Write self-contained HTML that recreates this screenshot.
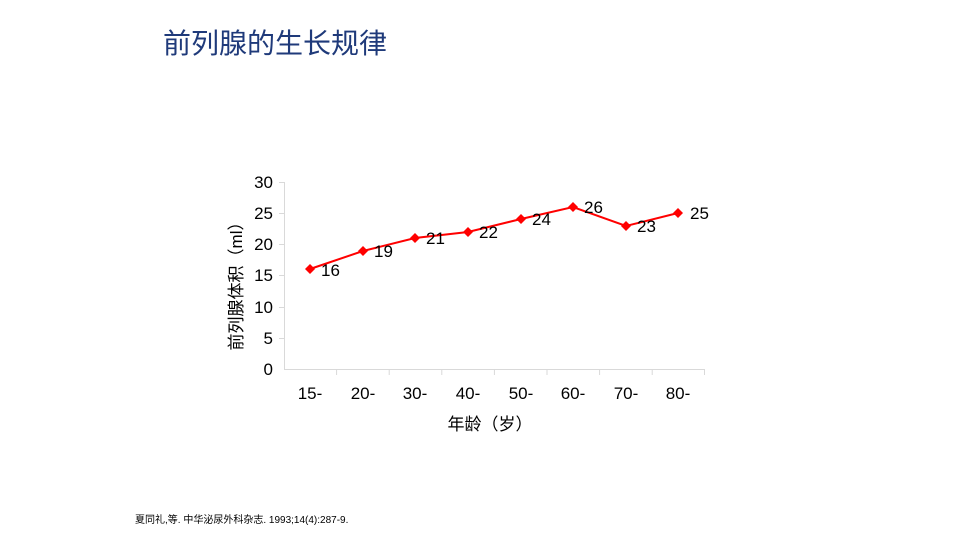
<!DOCTYPE html>
<html><head><meta charset="utf-8"><style>
body{margin:0;width:960px;height:540px;background:#fff;overflow:hidden;font-family:"Liberation Sans","Noto Sans CJK SC",sans-serif}
</style></head><body>
<svg width="960" height="540" xmlns="http://www.w3.org/2000/svg" font-family="Liberation Sans, Noto Sans CJK SC, sans-serif">
<text x="163" y="53" font-size="28" fill="#1f3a7a">前列腺的生长规律</text>
<g stroke="#d9d9d9" stroke-width="1">
<line x1="284.5" y1="182" x2="284.5" y2="369.5"/>
<line x1="284" y1="369.5" x2="705" y2="369.5"/>
<line x1="279" y1="182.5" x2="284" y2="182.5"/><line x1="279" y1="213.5" x2="284" y2="213.5"/><line x1="279" y1="244.5" x2="284" y2="244.5"/><line x1="279" y1="275.5" x2="284" y2="275.5"/><line x1="279" y1="307.5" x2="284" y2="307.5"/><line x1="279" y1="338.5" x2="284" y2="338.5"/>
<line x1="336.6" y1="369" x2="336.6" y2="375"/><line x1="389.2" y1="369" x2="389.2" y2="375"/><line x1="441.8" y1="369" x2="441.8" y2="375"/><line x1="494.4" y1="369" x2="494.4" y2="375"/><line x1="547" y1="369" x2="547" y2="375"/><line x1="599.6" y1="369" x2="599.6" y2="375"/><line x1="652.2" y1="369" x2="652.2" y2="375"/><line x1="704.5" y1="369" x2="704.5" y2="375"/>
</g>
<g font-size="17" fill="#000" text-anchor="end">
<text x="273" y="188">30</text><text x="273" y="219">25</text><text x="273" y="250">20</text><text x="273" y="281">15</text><text x="273" y="313">10</text><text x="273" y="344">5</text><text x="273" y="375">0</text>
</g>
<g font-size="17" fill="#000" text-anchor="middle">
<text x="310" y="399">15-</text><text x="363" y="399">20-</text><text x="415" y="399">30-</text><text x="468" y="399">40-</text><text x="521" y="399">50-</text><text x="573" y="399">60-</text><text x="626" y="399">70-</text><text x="678" y="399">80-</text>
<text x="490" y="430">年龄（岁）</text>
</g>
<text transform="translate(242,282) rotate(-90)" font-size="17" text-anchor="middle">前列腺体积（ml）</text>
<polyline fill="none" stroke="#ff0000" stroke-width="2" points="310,269 363,251 415,238 468,232 521,219 573,207 626,226 678,213"/>
<g fill="#ff0000">
<path d="M310 264l5 5-5 5-5-5z"/><path d="M363 246l5 5-5 5-5-5z"/><path d="M415 233l5 5-5 5-5-5z"/><path d="M468 227l5 5-5 5-5-5z"/><path d="M521 214l5 5-5 5-5-5z"/><path d="M573 202l5 5-5 5-5-5z"/><path d="M626 221l5 5-5 5-5-5z"/><path d="M678 208l5 5-5 5-5-5z"/>
</g>
<g font-size="17" fill="#000">
<text x="321" y="276">16</text><text x="374" y="257">19</text><text x="426" y="244">21</text><text x="479" y="238">22</text><text x="532" y="225">24</text><text x="584" y="213">26</text><text x="637" y="232">23</text><text x="690" y="219">25</text>
</g>
<text x="135" y="523" font-size="10" fill="#000">夏同礼,等. 中华泌尿外科杂志. 1993;14(4):287-9.</text>
</svg>
</body></html>
